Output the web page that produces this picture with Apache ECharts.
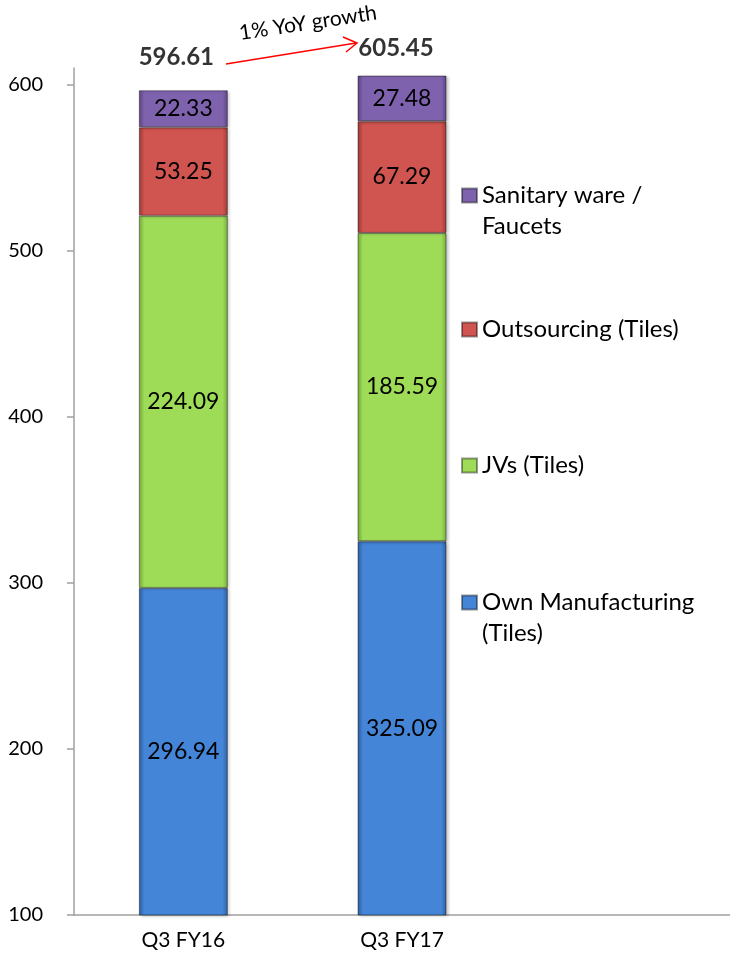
<!DOCTYPE html>
<html>
<head>
<meta charset="utf-8">
<script src="https://cdn.jsdelivr.net/npm/echarts@6/dist/echarts.min.js"></script>
<style>
  html, body { margin: 0; padding: 0; background: #fff; }
  #chart { width: 730px; height: 959px; }
</style>
</head>
<body>
<div id="chart"></div>
<script>
// Revenue mix by source, Q3 FY16 vs Q3 FY17
const quarters = ['Q3 FY16', 'Q3 FY17', ''];
const ownManufacturing = [296.94, 325.09];
const jvs = [224.09, 185.59];
const outsourcing = [53.25, 67.29];
const sanitaryFaucets = [22.33, 27.48];
const totals = [596.61, 605.45];
const yTicks = [100, 200, 300, 400, 500, 600];
const growthNote = '1% YoY growth';

const FONT = 'Lato, "Open Sans", sans-serif';

// soft bevelled look: darker at the side edges
function bevel(base, edge) {
  return new echarts.graphic.LinearGradient(0, 0, 1, 0, [
    { offset: 0, color: edge },
    { offset: 0.06, color: base },
    { offset: 0.94, color: base },
    { offset: 1, color: edge }
  ]);
}

const palette = {
  own: bevel('#4585d8', '#2f5fa0'),
  jv: bevel('#9edc58', '#76ad3c'),
  out: bevel('#d0544f', '#9c3b38'),
  san: bevel('#7f62ad', '#5d4585')
};

function segment(name, values, color) {
  return {
    name: name,
    type: 'bar',
    stack: 'mix',
    barWidth: 89,
    data: values,
    itemStyle: {
      color: color,
      borderColor: 'rgba(0,0,0,0.4)',
      borderWidth: 1,
      shadowColor: 'rgba(0,0,0,0.25)',
      shadowBlur: 3,
      shadowOffsetX: 2,
      shadowOffsetY: 1
    },
    label: {
      show: true,
      position: 'inside',
      color: '#000',
      fontSize: 23,
      fontFamily: FONT,
      formatter: p => p.value.toFixed(2)
    }
  };
}

function legendAt(name, text, top) {
  return {
    data: [name],
    left: 461,
    top: top,
    orient: 'vertical',
    padding: 0,
    itemWidth: 15,
    itemHeight: 14,
    icon: 'rect',
    selectedMode: false,
    formatter: () => text,
    textStyle: { fontSize: 24, lineHeight: 31, color: '#000', fontFamily: FONT }
  };
}

const chart = echarts.init(document.getElementById('chart'));

chart.setOption({
  animation: false,
  grid: { left: 74, right: -4, top: 68, bottom: 44 },
  xAxis: {
    type: 'category',
    data: quarters,
    axisLine: { lineStyle: { color: '#a0a0a0', width: 1.5 } },
    axisTick: { show: false },
    axisLabel: { fontSize: 21, color: '#000', fontFamily: FONT, margin: 15 }
  },
  yAxis: {
    type: 'value',
    min: 100,
    max: 610,
    interval: 100,
    splitLine: { show: false },
    axisLine: { show: true, lineStyle: { color: '#a0a0a0', width: 1.5 } },
    axisTick: { show: true, length: 7, customValues: yTicks, lineStyle: { color: '#a0a0a0', width: 1.5 } },
    axisLabel: { customValues: yTicks, fontSize: 20, color: '#000', fontFamily: FONT, margin: 31 }
  },
  legend: [
    legendAt('Sanitary ware / Faucets', '\nSanitary ware /\nFaucets', 149),
    legendAt('Outsourcing (Tiles)', 'Outsourcing (Tiles)', 314),
    legendAt('JVs (Tiles)', 'JVs (Tiles)', 450),
    legendAt('Own Manufacturing (Tiles)', '\nOwn Manufacturing\n(Tiles)', 556)
  ],
  series: [
    segment('Own Manufacturing (Tiles)', ownManufacturing, palette.own),
    segment('JVs (Tiles)', jvs, palette.jv),
    segment('Outsourcing (Tiles)', outsourcing, palette.out),
    segment('Sanitary ware / Faucets', sanitaryFaucets, palette.san),
    {
      // quarter totals written above each stack
      name: 'Total',
      type: 'scatter',
      symbolSize: 0,
      silent: true,
      z: 10,
      data: totals.map((v, i) => ({
        value: [i, v],
        label: { offset: i === 0 ? [-7, -33] : [-6, -27] }
      })),
      label: {
        show: true,
        position: 'inside',
        color: '#000',
        fontSize: 24,
        fontWeight: 'bold',
        fontFamily: FONT,
        formatter: p => p.value[1].toFixed(2)
      }
    }
  ],
  graphic: [
    {
      type: 'line',
      shape: { x1: 226, y1: 64, x2: 356, y2: 43 },
      style: { stroke: '#ff0000', lineWidth: 1.5 }
    },
    {
      type: 'polyline',
      shape: { points: [[343, 37], [357, 43], [346, 52]] },
      style: { stroke: '#ff0000', lineWidth: 1.5, fill: null }
    },
    {
      type: 'text',
      x: 308,
      y: 23,
      rotation: 0.15,
      style: {
        text: growthNote,
        fontSize: 21,
        fontFamily: FONT,
        fill: '#000',
        align: 'center',
        verticalAlign: 'middle'
      }
    }
  ]
});
</script>
</body>
</html>
